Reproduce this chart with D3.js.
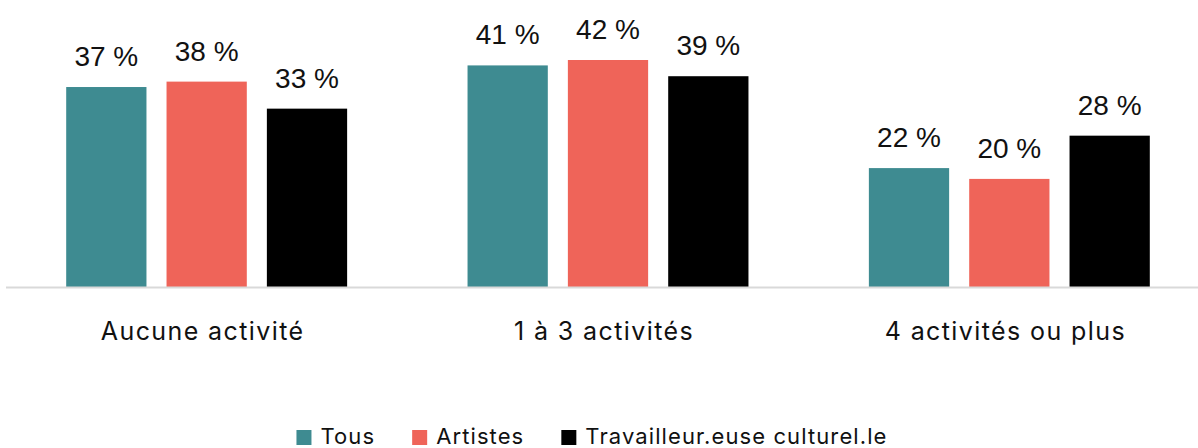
<!DOCTYPE html>
<html>
<head>
<meta charset="utf-8">
<script src="https://cdn.jsdelivr.net/npm/d3@7"></script>
<style>
  body { margin: 0; background: #fff; }
</style>
</head>
<body>
<div id="root"></div>
<script>
const w = 1198;
const h = 448;
const baseY = 287;

const categories = ["Aucune activité", "1 à 3 activités", "4 activités ou plus"];
const series = ["Tous", "Artistes", "Travailleur.euse culturel.le"];
const tous = [37, 41, 22];
const artistes = [38, 42, 20];
const travailleurs = [33, 39, 28];
const colors = ["#3e8b91", "#ef6459", "#000000"];

const values = [tous, artistes, travailleurs];

const data = categories.flatMap((cat, i) =>
  series.map((s, j) => ({ cat, s, value: values[j][i] }))
);

const svg = d3
  .select("#root")
  .append("svg")
  .attr("width", w)
  .attr("height", h);

const xScale = d3.scaleBand().domain(categories).range([6, 1210]).padding(0);

const xInner = d3
  .scaleBand()
  .domain(series)
  .range([0, xScale.bandwidth()])
  .paddingInner(0.2)
  .paddingOuter(0.6);

const yScale = d3.scaleLinear().domain([0, 42]).range([baseY, baseY - 227]);

const color = d3.scaleOrdinal().domain(series).range(colors);

// bars
svg
  .append("g")
  .selectAll("rect")
  .data(data)
  .join("rect")
  .attr("x", (d) => xScale(d.cat) + xInner(d.s))
  .attr("y", (d) => yScale(d.value))
  .attr("width", xInner.bandwidth())
  .attr("height", (d) => yScale(0) - yScale(d.value))
  .attr("fill", (d) => color(d.s));

// baseline
svg
  .append("line")
  .attr("x1", 6)
  .attr("x2", w)
  .attr("y1", yScale(0) + 0.5)
  .attr("y2", yScale(0) + 0.5)
  .attr("stroke", "#d9d9d9")
  .attr("stroke-width", 2);

// value labels
svg
  .append("g")
  .selectAll("text")
  .data(data)
  .join("text")
  .attr("x", (d) => xScale(d.cat) + xInner(d.s) + xInner.bandwidth() / 2)
  .attr("y", (d) => yScale(d.value) - 21)
  .attr("text-anchor", "middle")
  .attr("font-family", "'Liberation Sans', Arial, sans-serif")
  .attr("font-size", 28)
  .attr("fill", "#111")
  .text((d) => `${d.value} %`);

// category axis
const xAxis = d3.axisBottom(xScale).tickSize(0).tickPadding(0);
const axisG = svg
  .append("g")
  .attr("transform", `translate(-4, 340)`)
  .call(xAxis);
axisG.select(".domain").remove();
axisG
  .selectAll("text")
  .attr("dy", 0)
  .attr("font-family", "Inter, 'Noto Sans', sans-serif")
  .attr("font-size", 25)
  .attr("letter-spacing", 1.4)
  .attr("fill", "#111");

// legend
const legend = svg.append("g");
const items = legend
  .selectAll("g")
  .data(series)
  .join("g");

items
  .append("rect")
  .attr("width", 15)
  .attr("height", 15)
  .attr("y", 430)
  .attr("fill", (d) => color(d));

items
  .append("text")
  .attr("x", 24)
  .attr("y", 444)
  .attr("font-family", "Inter, 'Noto Sans', sans-serif")
  .attr("font-size", 22)
  .attr("letter-spacing", 1.1)
  .attr("fill", "#111")
  .text((d) => d);

let offset = 0;
const positions = [];
items.each(function () {
  const tw = d3.select(this).select("text").node().getComputedTextLength();
  positions.push(offset);
  offset += 24 + tw + 37;
});
const totalW = offset - 37;
const startX = 592 - totalW / 2;
items.attr("transform", (d, i) => `translate(${startX + positions[i]}, 0)`);
</script>
</body>
</html>
